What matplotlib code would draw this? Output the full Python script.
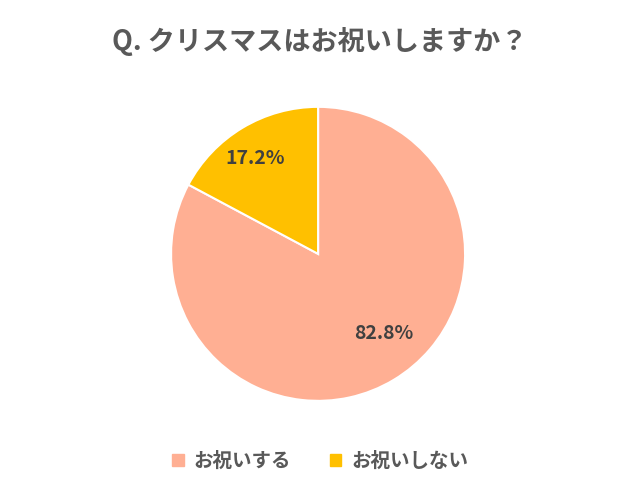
import matplotlib
matplotlib.use("Agg")
import matplotlib.pyplot as plt
from matplotlib.patches import Patch

plt.rcParams['font.family'] = ['Noto Sans CJK JP', 'DejaVu Sans']

labels = ["お祝いする", "お祝いしない"]
values = [82.8, 17.2]
colors = ["#FFAF93", "#FFC000"]
title = "Q. クリスマスはお祝いしますか？"

fig = plt.figure(figsize=(6.4, 4.91), dpi=100)
ax = fig.add_axes([0.497 - 0.2297, 0.483 - 0.2994, 0.4594, 0.5988])
wedges, _ = ax.pie(values, colors=colors, startangle=90, counterclock=False,
                   wedgeprops=dict(edgecolor="white", linewidth=1.5))
ax.set_aspect('equal')
ax.set_xlim(-1, 1); ax.set_ylim(-1, 1)
ax.text(0.45, -0.54, f"{values[0]}%", ha="center", va="center", fontsize=14, fontweight="bold", color="#404040")
ax.text(-0.43, 0.65, f"{values[1]}%", ha="center", va="center", fontsize=14, fontweight="bold", color="#404040")

fig.text(0.5, 0.915, title, ha="center", va="center", fontsize=19.5, fontweight="bold", color="#595959")
handles = [Patch(color=c) for c in colors]
fig.legend(handles, labels, loc="center", bbox_to_anchor=(0.5, 0.06), ncol=2, frameon=False,
           prop={'size': 14, 'weight': 'bold'}, handlelength=0.6, handleheight=0.6,
           handletextpad=0.5, columnspacing=2.0, labelcolor="#595959")
fig.savefig("out.png", dpi=100)
